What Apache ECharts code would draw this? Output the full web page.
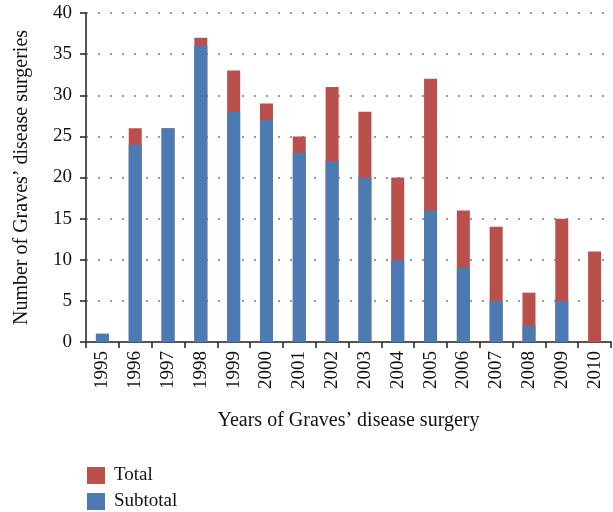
<!DOCTYPE html>
<html>
<head>
<meta charset="utf-8">
<script src="https://cdn.jsdelivr.net/npm/echarts@6/dist/echarts.min.js"></script>
<style>html,body{margin:0;padding:0;background:#fff}#c{width:613px;height:512px}</style>
</head>
<body>
<div id="c"></div>
<script>
var years = ['1995','1996','1997','1998','1999','2000','2001','2002','2003','2004','2005','2006','2007','2008','2009','2010'];
var totalValues = [1, 26, 26, 37, 33, 29, 25, 31, 28, 20, 32, 16, 14, 6, 15, 11];
var subtotalValues = [1, 24, 26, 36, 28, 27, 23, 22, 20, 10, 16, 9, 5, 2, 5, 0];
var yTicks = [0, 5, 10, 15, 20, 25, 30, 35, 40];

var serif = '"Liberation Serif", "DejaVu Serif", serif';
var legendText = {fontFamily: serif, fontSize: 19, color: '#111', padding: [0, 0, 0, 4]};
var chart = echarts.init(document.getElementById('c'), null, {renderer: 'canvas'});
chart.setOption({
  animation: false,
  grid: {left: 86, right: 2, top: 13, bottom: 170, containLabel: false},
  legend: [
    {
      left: 82, top: 461, icon: 'rect',
      itemWidth: 18, itemHeight: 17,
      textStyle: legendText,
      data: ['Total'],
      selectedMode: false
    },
    {
      left: 82, top: 487, icon: 'rect',
      itemWidth: 18, itemHeight: 17,
      textStyle: legendText,
      data: ['Subtotal'],
      selectedMode: false
    }
  ],
  xAxis: {
    type: 'category',
    data: years,
    name: 'Years of Graves\u2019 disease surgery',
    nameLocation: 'middle',
    nameGap: 69,
    nameTextStyle: {fontFamily: serif, fontSize: 20, color: '#111'},
    axisLine: {lineStyle: {color: '#555', width: 2}},
    axisTick: {show: true, alignWithLabel: false, length: 6, lineStyle: {color: '#222', width: 1.5}},
    axisLabel: {rotate: 90, fontFamily: serif, fontSize: 19, color: '#111', margin: 9, interval: 0}
  },
  yAxis: {
    type: 'value',
    min: 0, max: 40, interval: 5,
    name: 'Number of Graves\u2019 disease surgeries',
    nameLocation: 'middle',
    nameGap: 54,
    nameTextStyle: {fontFamily: serif, fontSize: 20, color: '#111'},
    axisLine: {show: true, lineStyle: {color: '#555', width: 2}},
    axisTick: {show: true, length: 6, lineStyle: {color: '#222', width: 1.5}},
    axisLabel: {fontFamily: serif, fontSize: 19, color: '#111', margin: 14,
      formatter: function (v) { return yTicks.indexOf(v) >= 0 ? String(v) : ''; }},
    splitLine: {show: true, lineStyle: {color: '#777', width: 1.5, type: [2, 10]}}
  },
  series: [
    {
      name: 'Total', type: 'bar', data: totalValues, barWidth: 13, barGap: '-100%',
      itemStyle: {color: '#B9504B'}
    },
    {
      name: 'Subtotal', type: 'bar', data: subtotalValues, barWidth: 13, barGap: '-100%',
      itemStyle: {color: '#4C7BB4'}
    }
  ]
});
</script>
</body>
</html>
